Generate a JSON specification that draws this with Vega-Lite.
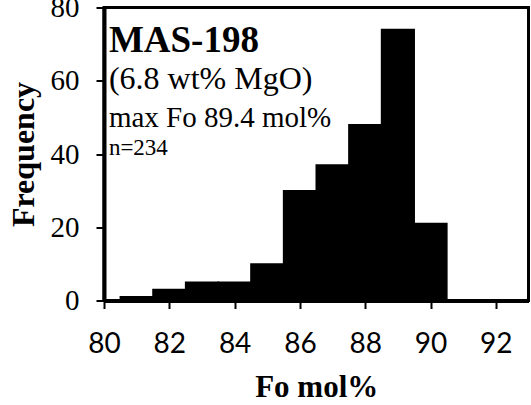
{
  "$schema": "https://vega.github.io/schema/vega-lite/v6.json",
  "width": 424.5,
  "height": 293,
  "autosize": {"type": "none"},
  "padding": {"left": 104, "top": 7.5, "right": 2.5, "bottom": 104.5},
  "background": "white",
  "config": {
    "view": {"stroke": "black", "strokeWidth": 3},
    "axis": {
      "grid": false,
      "domainColor": "black",
      "domainWidth": 4,
      "tickColor": "black",
      "tickWidth": 2,
      "tickSize": 8,
      "labelColor": "black",
      "titleColor": "black",
      "zindex": 1
    }
  },
  "datasets": {
    "bins": [
      {"lo": 80.5, "hi": 81.5, "n": 1},
      {"lo": 81.5, "hi": 82.5, "n": 3},
      {"lo": 82.5, "hi": 83.5, "n": 5},
      {"lo": 83.5, "hi": 84.5, "n": 5},
      {"lo": 84.5, "hi": 85.5, "n": 10},
      {"lo": 85.5, "hi": 86.5, "n": 30},
      {"lo": 86.5, "hi": 87.5, "n": 37},
      {"lo": 87.5, "hi": 88.5, "n": 48},
      {"lo": 88.5, "hi": 89.5, "n": 74},
      {"lo": 89.5, "hi": 90.5, "n": 21},
      {"lo": 90.5, "hi": 91.5, "n": 0},
      {"lo": 91.5, "hi": 92.5, "n": 0}
    ]
  },
  "layer": [
    {
      "data": {"name": "bins"},
      "mark": {"type": "rect", "color": "black", "stroke": "black", "strokeWidth": 1.5},
      "encoding": {
        "x": {
          "field": "lo",
          "type": "quantitative",
          "scale": {"domain": [80, 93], "nice": false, "zero": false},
          "axis": {
            "title": "Fo mol%",
            "values": [80, 81, 82, 83, 84, 85, 86, 87, 88, 89, 90, 91, 92, 93],
            "labelExpr": "datum.value % 2 == 0 ? datum.label : ''",
            "labelFont": "Lato",
            "labelFontSize": 28,
            "labelPadding": 22,
            "labelFlush": false,
            "titleFont": "Liberation Serif",
            "titleFontSize": 31,
            "titleFontWeight": "bold",
            "titlePadding": 14
          }
        },
        "x2": {"field": "hi"},
        "y": {
          "field": "n",
          "type": "quantitative",
          "scale": {"domain": [0, 80], "nice": false},
          "axis": {
            "title": "Frequency",
            "values": [0, 20, 40, 60, 80],
            "labelFont": "Liberation Serif",
            "labelFontSize": 29,
            "labelPadding": 17,
            "labelFlush": false,
            "titleFont": "Liberation Serif",
            "titleFontSize": 32,
            "titleFontWeight": "bold",
            "titlePadding": 10
          }
        },
        "y2": {"datum": 0}
      }
    },
    {
      "data": {"values": [{"x": 80.15, "y": 67.9, "label": "MAS-198"}]},
      "mark": {"type": "text", "align": "left", "baseline": "alphabetic", "font": "Liberation Serif", "fontSize": 37, "fontWeight": "bold", "color": "black"},
      "encoding": {
        "x": {"field": "x", "type": "quantitative"},
        "y": {"field": "y", "type": "quantitative"},
        "text": {"field": "label"}
      }
    },
    {
      "data": {"values": [{"x": 80.15, "y": 57.7, "label": "(6.8 wt% MgO)"}]},
      "mark": {"type": "text", "align": "left", "baseline": "alphabetic", "font": "Liberation Serif", "fontSize": 32, "color": "black"},
      "encoding": {
        "x": {"field": "x", "type": "quantitative"},
        "y": {"field": "y", "type": "quantitative"},
        "text": {"field": "label"}
      }
    },
    {
      "data": {"values": [{"x": 80.15, "y": 47.5, "label": "max Fo 89.4 mol%"}]},
      "mark": {"type": "text", "align": "left", "baseline": "alphabetic", "font": "Liberation Serif", "fontSize": 29, "color": "black"},
      "encoding": {
        "x": {"field": "x", "type": "quantitative"},
        "y": {"field": "y", "type": "quantitative"},
        "text": {"field": "label"}
      }
    },
    {
      "data": {"values": [{"x": 80.15, "y": 39.7, "label": "n=234"}]},
      "mark": {"type": "text", "align": "left", "baseline": "alphabetic", "font": "Liberation Serif", "fontSize": 23, "color": "black"},
      "encoding": {
        "x": {"field": "x", "type": "quantitative"},
        "y": {"field": "y", "type": "quantitative"},
        "text": {"field": "label"}
      }
    }
  ]
}
